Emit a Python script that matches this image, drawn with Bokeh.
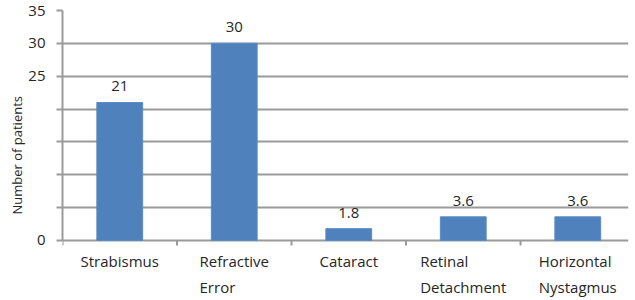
from bokeh.plotting import figure
from bokeh.models import ColumnDataSource, FixedTicker, LabelSet, Range1d, Title, LinearAxis
from bokeh.core.properties import value
from bokeh.embed import file_html
from bokeh.resources import INLINE

categories = ["Strabismus", "Refractive\nError", "Cataract", "Retinal\nDetachment", "Horizontal\nNystagmus"]
values = [21, 30, 1.8, 3.6, 3.6]
y_ticks = [0, 5, 10, 15, 20, 25, 30, 35]
y_tick_labels = ["0", "", "", "", "", "25", "30", "35"]

FONT = "Open Sans"
TXT = "#262626"
GRID = "#9a9a9a"

n = len(categories)
centers = [i + 0.5 for i in range(n)]
boundaries = list(range(n + 1))
src = ColumnDataSource(dict(x=centers, top=values, lab=[f"{v:g}" for v in values],
                            zero=[0] * n, cat=categories))

# y range extends below 0 so the category labels sit inside the frame
p = figure(width=633, height=299, output_backend="svg", toolbar_location=None,
           x_range=Range1d(0, 4.943), y_range=Range1d(-8.98, 35),
           min_border_left=62, min_border_right=5, min_border_top=10, min_border_bottom=0,
           x_axis_location=None, y_axis_location=None)
p.outline_line_color = None

p.vbar(x="x", top="top", width=0.4, bottom=0, source=src, fill_color="#4F81BD", line_color="#5a8ac6", line_width=1)

# category boundary tick marks under the baseline
p.ray(x=boundaries, y=[0] * len(boundaries), length=5, length_units="screen", angle=-90, angle_units="deg",
      line_color=GRID, line_width=2)

labels = LabelSet(x="x", y="top", text="lab", source=src, text_align="center", text_baseline="bottom",
                  y_offset=11, text_font=value(FONT), text_font_size="15px", text_color=TXT)
p.add_layout(labels)

cat_labels = LabelSet(x="x", y="zero", text="cat", source=src, text_align="center", text_baseline="top",
                      y_offset=-11, text_font=value(FONT), text_font_size="15px", text_color=TXT,
                      text_line_height=1.3)
p.add_layout(cat_labels)

yax = LinearAxis(ticker=FixedTicker(ticks=y_ticks), bounds=(0, 35))
yax.major_label_overrides = {t: l for t, l in zip(y_ticks, y_tick_labels)}
yax.major_tick_out = 6
yax.major_tick_in = 0
yax.minor_tick_out = 0
yax.minor_tick_in = 0
yax.axis_line_color = GRID
yax.axis_line_width = 2
yax.major_tick_line_color = GRID
yax.major_tick_line_width = 2
yax.major_label_standoff = 11
yax.major_label_text_font = FONT
yax.major_label_text_font_size = "15px"
yax.major_label_text_color = TXT
p.add_layout(yax, "left")

p.xgrid.visible = False
p.ygrid.ticker = FixedTicker(ticks=y_ticks)
p.ygrid.grid_line_color = GRID
p.ygrid.grid_line_width = 2

t = Title(text="Number of patients", align="left", offset=85, text_font=FONT,
          text_font_size="13px", text_font_style="normal", text_color=TXT, standoff=0)
p.add_layout(t, "left")

open("out.html", "w").write(file_html(p, INLINE))
